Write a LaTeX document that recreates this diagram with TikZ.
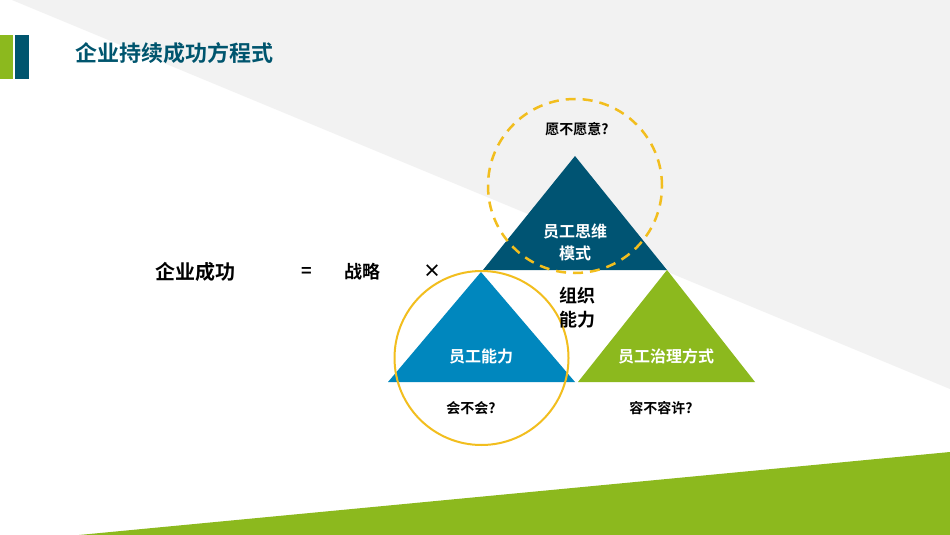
\documentclass[tikz,border=0pt]{standalone}
\usepackage{fontspec}
\newfontfamily\cjk{Noto Sans CJK SC Bold}
\definecolor{grayb}{RGB}{242,242,242}
\definecolor{greenc}{RGB}{140,185,30}
\definecolor{navy}{RGB}{0,84,115}
\definecolor{bluec}{RGB}{0,135,190}
\definecolor{goldc}{RGB}{242,190,30}
\definecolor{titlec}{RGB}{0,85,110}
\begin{document}
\begin{tikzpicture}[x=1pt,y=-1pt,
  lbl/.style={font=\cjk, inner sep=0pt, align=center},
  tri/.style={draw=none}]
\useasboundingbox (0,0) rectangle (950,535);
\fill[white] (0,0) rectangle (950,535);
\fill[grayb] (12,0) -- (950,0) -- (950,389) -- cycle;
\fill[greenc] (79,535) -- (950,452) -- (950,535) -- cycle;
\fill[greenc] (0,35) rectangle (13,79);
\fill[titlec] (15,35) rectangle (29,79);
\node[lbl, anchor=west, text=titlec, font=\cjk\fontsize{22}{26}\selectfont] (title) at (75,53) {企业持续成功方程式};
% triangles
\fill[navy] (575,156) -- (667,270) -- (483,270) -- cycle;
\fill[bluec] (481,272) -- (575,382) -- (388,382) -- cycle;
\fill[greenc] (667,270) -- (755,382) -- (578,382) -- cycle;
\node[draw=goldc, line width=2.5pt, dash pattern=on 10pt off 7pt, circle, minimum size=174pt] (dc) at (575,186) {};
\node[draw=goldc, line width=2pt, circle, minimum size=174pt] (sc) at (481.5,358) {};
\node[lbl, font=\cjk\fontsize{14}{17}\selectfont] (q1) at (577,129) {愿不愿意?};
\node[lbl, text=white, font=\cjk\fontsize{16}{22}\selectfont] (t1) at (575,242) {员工思维\\模式};
\node[lbl, font=\cjk\fontsize{18}{24}\selectfont] (org) at (577,308) {组织\\能力};
\node[lbl, text=white, font=\cjk\fontsize{16}{19}\selectfont] (t2) at (481,356) {员工能力};
\node[lbl, text=white, font=\cjk\fontsize{16}{19}\selectfont] (t3) at (666,356) {员工治理方式};
\node[lbl, font=\cjk\fontsize{14}{17}\selectfont] (q2) at (471,408) {会不会?};
\node[lbl, font=\cjk\fontsize{14}{17}\selectfont] (q3) at (661,408) {容不容许?};
\node[lbl, font=\cjk\fontsize{20}{24}\selectfont] (e1) at (195,272) {企业成功};
\node[lbl, font=\cjk\fontsize{18}{22}\selectfont] (e2) at (307,272) {=};
\node[lbl, font=\cjk\fontsize{18}{22}\selectfont] (e3) at (362,272) {战略};
\node[lbl, font=\cjk\fontsize{18}{22}\selectfont] (e4) at (432,271) {×};
\end{tikzpicture}
\end{document}
